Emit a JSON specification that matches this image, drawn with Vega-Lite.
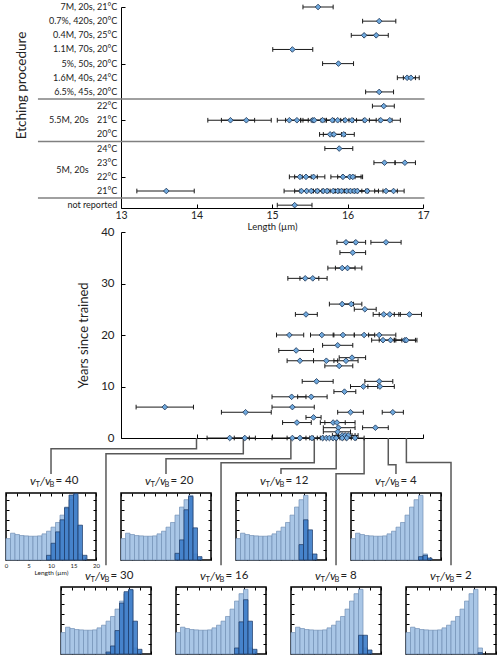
{
"$schema": "https://vega.github.io/schema/vega-lite/v6.json",
"padding": {"left": 3, "top": 2, "right": 0, "bottom": 0},
"config": {"view": {"stroke": null}, "font": "Lato", "axis": {"domainColor": "#000", "tickColor": "#000", "labelColor": "#222", "titleColor": "#222", "grid": false, "labelFlush": false, "labelOverlap": false, "labelBound": false}, "text": {"font": "Lato", "color": "#222"}},
"datasets": {
"rows": [
{"r":0,"t":"7M, 20s, 21°C"},{"r":1,"t":"0.7%, 420s, 20°C"},{"r":2,"t":"0.4M, 70s, 25°C"},{"r":3,"t":"1.1M, 70s, 20°C"},{"r":4,"t":"5%, 50s, 20°C"},{"r":5,"t":"1.6M, 40s, 24°C"},{"r":6,"t":"6.5%, 45s, 20°C"},{"r":7,"t":"22°C"},{"r":8,"t":"21°C"},{"r":9,"t":"20°C"},{"r":10,"t":"24°C"},{"r":11,"t":"23°C"},{"r":12,"t":"22°C"},{"r":13,"t":"21°C"},{"r":14,"t":"not reported"}
],
"etch": [
{"r":0,"x":15.61,"lo":15.41,"hi":15.81},
{"r":1,"x":16.42,"lo":16.2,"hi":16.64},
{"r":2,"x":16.22,"lo":16.05,"hi":16.38},
{"r":2,"x":16.38,"lo":16.22,"hi":16.54},
{"r":3,"x":15.27,"lo":15.01,"hi":15.54},
{"r":4,"x":15.88,"lo":15.67,"hi":16.08},
{"r":5,"x":16.79,"lo":16.66,"hi":16.9},
{"r":5,"x":16.84,"lo":16.74,"hi":16.95},
{"r":6,"x":16.42,"lo":16.24,"hi":16.61},
{"r":7,"x":16.48,"lo":16.33,"hi":16.62},
{"r":8,"x":14.45,"lo":14.15,"hi":14.77},
{"r":8,"x":14.66,"lo":14.33,"hi":14.99},
{"r":8,"x":15.23,"lo":15.07,"hi":15.38},
{"r":8,"x":15.33,"lo":15.18,"hi":15.48},
{"r":8,"x":15.54,"lo":15.38,"hi":15.7},
{"r":8,"x":15.56,"lo":15.41,"hi":15.72},
{"r":8,"x":15.67,"lo":15.52,"hi":15.82},
{"r":8,"x":15.8,"lo":15.65,"hi":15.95},
{"r":8,"x":15.87,"lo":15.72,"hi":16.02},
{"r":8,"x":15.97,"lo":15.82,"hi":16.12},
{"r":8,"x":16.06,"lo":15.91,"hi":16.21},
{"r":8,"x":16.23,"lo":16.08,"hi":16.38},
{"r":8,"x":16.44,"lo":16.29,"hi":16.59},
{"r":8,"x":16.56,"lo":16.42,"hi":16.7},
{"r":9,"x":15.77,"lo":15.63,"hi":15.92},
{"r":9,"x":15.82,"lo":15.68,"hi":15.97},
{"r":9,"x":15.95,"lo":15.8,"hi":16.09},
{"r":10,"x":15.89,"lo":15.7,"hi":16.07},
{"r":11,"x":16.49,"lo":16.35,"hi":16.63},
{"r":11,"x":16.76,"lo":16.63,"hi":16.9},
{"r":12,"x":15.37,"lo":15.23,"hi":15.52},
{"r":12,"x":15.45,"lo":15.3,"hi":15.6},
{"r":12,"x":15.55,"lo":15.4,"hi":15.7},
{"r":12,"x":15.94,"lo":15.78,"hi":16.1},
{"r":12,"x":16.03,"lo":15.87,"hi":16.18},
{"r":12,"x":16.07,"lo":15.93,"hi":16.2},
{"r":13,"x":13.6,"lo":13.21,"hi":13.97},
{"r":13,"x":15.39,"lo":15.16,"hi":15.55},
{"r":13,"x":15.46,"lo":15.3,"hi":15.62},
{"r":13,"x":15.52,"lo":15.37,"hi":15.67},
{"r":13,"x":15.6,"lo":15.45,"hi":15.75},
{"r":13,"x":15.68,"lo":15.53,"hi":15.83},
{"r":13,"x":15.73,"lo":15.58,"hi":15.88},
{"r":13,"x":15.81,"lo":15.66,"hi":15.96},
{"r":13,"x":15.87,"lo":15.72,"hi":16.02},
{"r":13,"x":15.92,"lo":15.77,"hi":16.07},
{"r":13,"x":15.99,"lo":15.84,"hi":16.14},
{"r":13,"x":16.04,"lo":15.89,"hi":16.19},
{"r":13,"x":16.09,"lo":15.94,"hi":16.24},
{"r":13,"x":16.13,"lo":15.98,"hi":16.28},
{"r":13,"x":16.26,"lo":16.11,"hi":16.41},
{"r":13,"x":16.51,"lo":16.36,"hi":16.66},
{"r":13,"x":16.61,"lo":16.47,"hi":16.75},
{"r":14,"x":15.3,"lo":15.07,"hi":15.53}
],
"years": [
{"y":38,"x":15.98,"lo":15.86,"hi":16.1},
{"y":38,"x":16.11,"lo":15.98,"hi":16.24},
{"y":38,"x":16.51,"lo":16.31,"hi":16.71},
{"y":36,"x":16.07,"lo":15.9,"hi":16.24},
{"y":33,"x":15.93,"lo":15.74,"hi":16.1},
{"y":33,"x":16.0,"lo":15.84,"hi":16.19},
{"y":31,"x":15.44,"lo":15.21,"hi":15.62},
{"y":31,"x":15.54,"lo":15.37,"hi":15.73},
{"y":26,"x":15.93,"lo":15.76,"hi":16.08},
{"y":26,"x":16.05,"lo":15.92,"hi":16.19},
{"y":25,"x":16.23,"lo":16.09,"hi":16.38},
{"y":24,"x":15.45,"lo":15.31,"hi":15.6},
{"y":24,"x":16.48,"lo":16.34,"hi":16.62},
{"y":24,"x":16.56,"lo":16.42,"hi":16.7},
{"y":24,"x":16.82,"lo":16.68,"hi":16.98},
{"y":20,"x":15.23,"lo":15.06,"hi":15.42},
{"y":20,"x":15.66,"lo":15.51,"hi":15.82},
{"y":20,"x":15.94,"lo":15.81,"hi":16.09},
{"y":20,"x":16.22,"lo":16.09,"hi":16.36},
{"y":20,"x":16.42,"lo":16.28,"hi":16.64},
{"y":19,"x":16.47,"lo":16.32,"hi":16.62},
{"y":19,"x":16.57,"lo":16.42,"hi":16.72},
{"y":19,"x":16.76,"lo":16.62,"hi":16.9},
{"y":19,"x":16.78,"lo":16.64,"hi":16.92},
{"y":18,"x":15.87,"lo":15.67,"hi":16.07},
{"y":17,"x":15.32,"lo":15.09,"hi":15.55},
{"y":15.6,"x":16.06,"lo":15.89,"hi":16.24},
{"y":15,"x":15.37,"lo":15.2,"hi":15.55},
{"y":15,"x":15.72,"lo":15.55,"hi":15.87},
{"y":15,"x":15.98,"lo":15.82,"hi":16.14},
{"y":14,"x":15.89,"lo":15.7,"hi":16.07},
{"y":11,"x":15.59,"lo":15.4,"hi":15.81},
{"y":11,"x":16.42,"lo":16.23,"hi":16.6},
{"y":10,"x":16.21,"lo":16.04,"hi":16.4},
{"y":10,"x":16.43,"lo":16.27,"hi":16.62},
{"y":9,"x":15.96,"lo":15.82,"hi":16.11},
{"y":8,"x":15.26,"lo":15.0,"hi":15.45},
{"y":8,"x":15.52,"lo":15.34,"hi":15.73},
{"y":6,"x":13.58,"lo":13.2,"hi":13.96},
{"y":6,"x":15.27,"lo":15.0,"hi":15.56},
{"y":5,"x":14.65,"lo":14.33,"hi":14.99},
{"y":5,"x":16.04,"lo":15.87,"hi":16.21},
{"y":5,"x":16.6,"lo":16.46,"hi":16.74},
{"y":4,"x":15.55,"lo":15.45,"hi":15.65},
{"y":3,"x":15.33,"lo":15.14,"hi":15.52},
{"y":3,"x":15.81,"lo":15.64,"hi":15.97},
{"y":3,"x":15.86,"lo":15.7,"hi":16.1},
{"y":2,"x":15.88,"lo":15.68,"hi":16.1},
{"y":2,"x":16.37,"lo":16.2,"hi":16.54},
{"y":1.2,"x":15.87,"lo":15.68,"hi":16.04},
{"y":0.5,"x":15.93,"lo":15.8,"hi":16.06},
{"y":0.5,"x":15.97,"lo":15.85,"hi":16.1},
{"y":0.5,"x":16.01,"lo":15.88,"hi":16.14},
{"y":0,"x":14.44,"lo":14.14,"hi":14.7},
{"y":0,"x":14.64,"lo":14.5,"hi":14.78},
{"y":0,"x":15.27,"lo":15.0,"hi":15.45},
{"y":0,"x":15.37,"lo":15.2,"hi":15.5},
{"y":0,"x":15.53,"lo":15.38,"hi":15.67},
{"y":0,"x":15.67,"lo":15.55,"hi":15.8},
{"y":0,"x":15.72,"lo":15.6,"hi":15.85},
{"y":0,"x":15.76,"lo":15.64,"hi":15.9},
{"y":0,"x":15.81,"lo":15.68,"hi":15.95},
{"y":0,"x":15.85,"lo":15.72,"hi":15.98},
{"y":0,"x":15.93,"lo":15.8,"hi":16.05},
{"y":0,"x":15.99,"lo":15.86,"hi":16.12},
{"y":0,"x":16.1,"lo":15.98,"hi":16.22}
],
"conn": [
{"c":"40","k":0,"x":14.0,"y":0},{"c":"40","k":1,"x":14.0,"y":-2.08},{"c":"40","k":2,"x":12.073,"y":-2.08},{"c":"40","k":3,"x":12.073,"y":-7.0},
{"c":"30","k":0,"x":14.62,"y":0},{"c":"30","k":1,"x":14.62,"y":-3.05},{"c":"30","k":2,"x":12.801,"y":-3.05},{"c":"30","k":3,"x":12.801,"y":-24.7},
{"c":"20","k":0,"x":15.25,"y":0},{"c":"20","k":1,"x":15.25,"y":-4.03},{"c":"20","k":2,"x":13.596,"y":-4.03},{"c":"20","k":3,"x":13.596,"y":-7.0},
{"c":"16","k":0,"x":15.56,"y":0},{"c":"16","k":1,"x":15.56,"y":-4.8},{"c":"16","k":2,"x":14.325,"y":-4.8},{"c":"16","k":3,"x":14.325,"y":-24.7},
{"c":"12","k":0,"x":15.85,"y":0},{"c":"12","k":1,"x":15.85,"y":-5.97},{"c":"12","k":2,"x":15.119,"y":-5.97},{"c":"12","k":3,"x":15.119,"y":-7.0},
{"c":"8","k":0,"x":16.22,"y":0},{"c":"8","k":1,"x":16.22,"y":-6.94},{"c":"8","k":2,"x":15.848,"y":-6.94},{"c":"8","k":3,"x":15.848,"y":-24.7},
{"c":"4","k":0,"x":16.54,"y":0},{"c":"4","k":1,"x":16.54,"y":-5.2},{"c":"4","k":2,"x":16.642,"y":-5.2},{"c":"4","k":3,"x":16.642,"y":-7.0},
{"c":"2","k":0,"x":16.78,"y":0},{"c":"2","k":1,"x":16.78,"y":-4.75},{"c":"2","k":2,"x":17.371,"y":-4.75},{"c":"2","k":3,"x":17.371,"y":-24.7}
],
"light": [
{"b0":0,"b1":1,"n":0.32},{"b0":1,"b1":2,"n":0.4},{"b0":2,"b1":3,"n":0.38},{"b0":3,"b1":4,"n":0.365},{"b0":4,"b1":5,"n":0.36},{"b0":5,"b1":6,"n":0.355},{"b0":6,"b1":7,"n":0.355},{"b0":7,"b1":8,"n":0.36},{"b0":8,"b1":9,"n":0.39},{"b0":9,"b1":10,"n":0.43},{"b0":10,"b1":11,"n":0.49},{"b0":11,"b1":12,"n":0.56},{"b0":12,"b1":13,"n":0.67},{"b0":13,"b1":14,"n":0.79},{"b0":14,"b1":15,"n":0.9},{"b0":15,"b1":16,"n":0.965},{"b0":16,"b1":17,"n":0.09}
],
"dark": [
{"v":40,"b0":9,"b1":10,"n":0.07},{"v":40,"b0":10,"b1":11,"n":0.25},{"v":40,"b0":11,"b1":12,"n":0.42},{"v":40,"b0":12,"b1":13,"n":0.6},{"v":40,"b0":13,"b1":14,"n":0.78},{"v":40,"b0":14,"b1":15,"n":0.97},{"v":40,"b0":15,"b1":16,"n":0.99},{"v":40,"b0":16,"b1":17,"n":0.52},{"v":40,"b0":17,"b1":18,"n":0.07},
{"v":30,"b0":10,"b1":11,"n":0.03},{"v":30,"b0":11,"b1":12,"n":0.12},{"v":30,"b0":12,"b1":13,"n":0.35},{"v":30,"b0":13,"b1":14,"n":0.76},{"v":30,"b0":14,"b1":15,"n":0.93},{"v":30,"b0":15,"b1":16,"n":0.96},{"v":30,"b0":16,"b1":17,"n":0.49},{"v":30,"b0":17,"b1":18,"n":0.07},
{"v":20,"b0":12,"b1":13,"n":0.1},{"v":20,"b0":13,"b1":14,"n":0.3},{"v":20,"b0":14,"b1":15,"n":0.75},{"v":20,"b0":15,"b1":16,"n":0.95},{"v":20,"b0":16,"b1":17,"n":0.48},{"v":20,"b0":17,"b1":18,"n":0.05},
{"v":16,"b0":13,"b1":14,"n":0.09},{"v":16,"b0":14,"b1":15,"n":0.48},{"v":16,"b0":15,"b1":16,"n":0.81},{"v":16,"b0":16,"b1":17,"n":0.49},{"v":16,"b0":17,"b1":18,"n":0.07},
{"v":12,"b0":14,"b1":15,"n":0.23},{"v":12,"b0":15,"b1":16,"n":0.6},{"v":12,"b0":16,"b1":17,"n":0.45},{"v":12,"b0":17,"b1":18,"n":0.09},
{"v":8,"b0":15,"b1":16,"n":0.28},{"v":8,"b0":16,"b1":17,"n":0.28},{"v":8,"b0":17,"b1":18,"n":0.06},
{"v":4,"b0":15,"b1":16,"n":0.05},{"v":4,"b0":16,"b1":17,"n":0.07},{"v":4,"b0":17,"b1":18,"n":0.03},
{"v":2,"b0":16,"b1":17,"n":0.02}
]
},
"vconcat": [
{"hconcat": [
  {"width": 115, "height": 1, "data": {"values": []}, "mark": "point"},
  {"vconcat": [
    {"width": 302, "height": 201,
     "layer": [
      {"data": {"values": [{"r": 6.5}, {"r": 9.5}, {"r": 13.5}]}, "mark": {"type": "rule", "color": "#808080", "strokeWidth": 1.5},
       "encoding": {"y": {"field": "r", "type": "quantitative"}, "x": {"datum": 11.9, "type": "quantitative"}, "x2": {"datum": 17.02}}},
      {"data": {"values": [{"t": "5.5M, 20s", "r": 8}, {"t": "5M, 20s", "r": 11.5}]}, "mark": {"type": "text", "align": "right", "baseline": "middle", "fontSize": 9},
       "encoding": {"x": {"datum": 12.57, "type": "quantitative"}, "y": {"field": "r", "type": "quantitative"}, "text": {"field": "t"}}},
      {"data": {"name": "rows"}, "mark": {"type": "text", "align": "right", "baseline": "middle", "fontSize": 9},
       "encoding": {"x": {"datum": 12.95, "type": "quantitative"}, "y": {"field": "r", "type": "quantitative"}, "text": {"field": "t"}}},
      {"data": {"name": "etch"}, "mark": {"type": "rule", "color": "#1a1a1a", "strokeWidth": 1},
       "encoding": {"x": {"field": "lo", "type": "quantitative"}, "x2": {"field": "hi"}, "y": {"field": "r", "type": "quantitative"}}},
      {"data": {"name": "etch"}, "mark": {"type": "point", "shape": "M0,-1L0,1", "filled": false, "size": 22, "stroke": "#1a1a1a", "strokeWidth": 1, "opacity": 1},
       "encoding": {"x": {"field": "lo", "type": "quantitative"}, "y": {"field": "r", "type": "quantitative"}}},
      {"data": {"name": "etch"}, "mark": {"type": "point", "shape": "M0,-1L0,1", "filled": false, "size": 22, "stroke": "#1a1a1a", "strokeWidth": 1, "opacity": 1},
       "encoding": {"x": {"field": "hi", "type": "quantitative"}, "y": {"field": "r", "type": "quantitative"}}},
      {"data": {"name": "etch"}, "mark": {"type": "point", "shape": "diamond", "filled": true, "size": 32, "fill": "#6fa9de", "stroke": "#1b3150", "strokeWidth": 0.8, "opacity": 1},
       "encoding": {
        "x": {"field": "x", "type": "quantitative", "scale": {"domain": [13, 17], "nice": false, "zero": false},
              "axis": {"values": [13, 14, 15, 16, 17], "format": "d", "title": "Length (µm)", "titleFontSize": 9.5, "titleFontWeight": "normal", "titlePadding": 1, "labelFontSize": 10.5, "tickSize": -4, "labelPadding": 6, "labelOverlap": false}},
        "y": {"field": "r", "type": "quantitative", "scale": {"domain": [0, 14.2], "reverse": true, "nice": false, "zero": false},
              "axis": {"values": [0,2,4,6,8,10,12,14], "labels": false, "tickSize": -4, "title": "Etching procedure", "titleFontSize": 13.5, "titleFontWeight": "normal", "titlePadding": 92, "titleY": 78}}
       }}
     ]},
    {"width": 302, "height": 206,
     "layer": [
      {"data": {"name": "conn"}, "mark": {"type": "line", "color": "#595959", "strokeWidth": 1.5, "strokeJoin": "miter"},
       "encoding": {"x": {"field": "x", "type": "quantitative"}, "y": {"field": "y", "type": "quantitative"}, "detail": {"field": "c"}, "order": {"field": "k"}}},
      {"data": {"name": "years"}, "mark": {"type": "rule", "color": "#1a1a1a", "strokeWidth": 1},
       "encoding": {"x": {"field": "lo", "type": "quantitative"}, "x2": {"field": "hi"}, "y": {"field": "y", "type": "quantitative"}}},
      {"data": {"name": "years"}, "mark": {"type": "point", "shape": "M0,-1L0,1", "filled": false, "size": 22, "stroke": "#1a1a1a", "strokeWidth": 1, "opacity": 1},
       "encoding": {"x": {"field": "lo", "type": "quantitative"}, "y": {"field": "y", "type": "quantitative"}}},
      {"data": {"name": "years"}, "mark": {"type": "point", "shape": "M0,-1L0,1", "filled": false, "size": 22, "stroke": "#1a1a1a", "strokeWidth": 1, "opacity": 1},
       "encoding": {"x": {"field": "hi", "type": "quantitative"}, "y": {"field": "y", "type": "quantitative"}}},
      {"data": {"name": "years"}, "mark": {"type": "point", "shape": "diamond", "filled": true, "size": 32, "fill": "#6fa9de", "stroke": "#1b3150", "strokeWidth": 0.8, "opacity": 1},
       "encoding": {
        "x": {"field": "x", "type": "quantitative", "scale": {"domain": [13, 17], "nice": false, "zero": false},
              "axis": {"values": [13, 14, 15, 16, 17], "labels": false, "title": null, "tickSize": -4}},
        "y": {"field": "y", "type": "quantitative", "scale": {"domain": [0, 40], "nice": false, "zero": false},
              "axis": {"values": [0,5,10,15,20,25,30,35,40], "labelOverlap": false, "labelFontSize": 11.5, "tickSize": -4, "labelPadding": 11, "title": "Years since trained", "titleFontSize": 13, "titleFontWeight": "normal", "titlePadding": 10}}
       }}
     ]}
  ], "spacing": 24, "bounds": "flush"}
], "spacing": 0, "bounds": "flush"},
{"vconcat": [
 {"hconcat": [
  {"width": 90, "height": 67, "view": {"stroke": "#000", "strokeWidth": 1.5},
   "layer": [
    {"data": {"name": "light"}, "mark": {"type": "rect", "fill": "#a9c6e6", "stroke": "#7391b6", "strokeWidth": 0.7},
     "encoding": {"x": {"field": "b0", "type": "quantitative", "scale": {"domain": [0, 20], "nice": false, "zero": false}, "axis": {"orient": "bottom", "values": [0,2.5,5,7.5,10,12.5,15,17.5,20], "tickSize": -3, "domain": false, "labelExpr": "datum.value % 5 == 0 ? datum.label : ''", "labelFontSize": 6, "labelPadding": 5, "title": "Length (µm)", "titleFontSize": 6.5, "titleFontWeight": "normal", "titlePadding": 1}},
      "x2": {"field": "b1"},
      "y": {"field": "n", "type": "quantitative", "scale": {"domain": [0, 1], "nice": false}, "axis": {"orient": "left", "values": [0.15,0.3,0.45,0.6,0.75,0.9], "tickSize": -3, "domain": false, "labels": false, "title": null}},
      "y2": {"datum": 0}}},
    {"data": {"name": "dark"}, "transform": [{"filter": "datum.v == 40"}], "mark": {"type": "rect", "fill": "#3b7bc8", "fillOpacity": 0.9, "stroke": "#1c3966", "strokeWidth": 0.7},
     "encoding": {"x": {"field": "b0", "type": "quantitative", "axis": {"orient": "top", "values": [0,2.5,5,7.5,10,12.5,15,17.5,20], "tickSize": -3, "domain": false, "labels": false, "title": null}},
      "x2": {"field": "b1"},
      "y": {"field": "n", "type": "quantitative", "axis": {"orient": "right", "values": [0.15,0.3,0.45,0.6,0.75,0.9], "tickSize": -3, "domain": false, "labels": false, "title": null}},
      "y2": {"datum": 0}}},
    {"data": {"values": [{}]}, "mark": {"type": "text", "text": "v", "fontStyle": "italic", "fontSize": 12, "align": "left", "baseline": "middle", "dx": -21}, "encoding": {"x": {"datum": 10, "type": "quantitative", "axis": null}, "y": {"datum": 1.18, "type": "quantitative", "axis": null}}},
    {"data": {"values": [{}]}, "mark": {"type": "text", "text": "T", "fontSize": 7.5, "align": "left", "baseline": "middle", "dx": -15.5, "dy": 4}, "encoding": {"x": {"datum": 10, "type": "quantitative", "axis": null}, "y": {"datum": 1.18, "type": "quantitative", "axis": null}}},
    {"data": {"values": [{}]}, "mark": {"type": "text", "text": "/v", "fontStyle": "italic", "fontSize": 12, "align": "left", "baseline": "middle", "dx": -11}, "encoding": {"x": {"datum": 10, "type": "quantitative", "axis": null}, "y": {"datum": 1.18, "type": "quantitative", "axis": null}}},
    {"data": {"values": [{}]}, "mark": {"type": "text", "text": "B", "fontSize": 7.5, "align": "left", "baseline": "middle", "dx": -1.5, "dy": 4}, "encoding": {"x": {"datum": 10, "type": "quantitative", "axis": null}, "y": {"datum": 1.18, "type": "quantitative", "axis": null}}},
    {"data": {"values": [{}]}, "mark": {"type": "text", "text": "= 40", "fontSize": 11.5, "align": "left", "baseline": "middle", "dx": 4.5}, "encoding": {"x": {"datum": 10, "type": "quantitative", "axis": null}, "y": {"datum": 1.18, "type": "quantitative", "axis": null}}}
   ],
   "resolve": {"axis": {"x": "independent", "y": "independent"}}},
  {"width": 90, "height": 67, "view": {"stroke": "#000", "strokeWidth": 1.5},
   "layer": [
    {"data": {"name": "light"}, "mark": {"type": "rect", "fill": "#a9c6e6", "stroke": "#7391b6", "strokeWidth": 0.7},
     "encoding": {"x": {"field": "b0", "type": "quantitative", "scale": {"domain": [0, 20], "nice": false, "zero": false}, "axis": {"orient": "bottom", "values": [0,2.5,5,7.5,10,12.5,15,17.5,20], "tickSize": -3, "domain": false, "labels": false, "title": null}},
      "x2": {"field": "b1"},
      "y": {"field": "n", "type": "quantitative", "scale": {"domain": [0, 1], "nice": false}, "axis": {"orient": "left", "values": [0.15,0.3,0.45,0.6,0.75,0.9], "tickSize": -3, "domain": false, "labels": false, "title": null}},
      "y2": {"datum": 0}}},
    {"data": {"name": "dark"}, "transform": [{"filter": "datum.v == 20"}], "mark": {"type": "rect", "fill": "#3b7bc8", "fillOpacity": 0.9, "stroke": "#1c3966", "strokeWidth": 0.7},
     "encoding": {"x": {"field": "b0", "type": "quantitative", "axis": {"orient": "top", "values": [0,2.5,5,7.5,10,12.5,15,17.5,20], "tickSize": -3, "domain": false, "labels": false, "title": null}},
      "x2": {"field": "b1"},
      "y": {"field": "n", "type": "quantitative", "axis": {"orient": "right", "values": [0.15,0.3,0.45,0.6,0.75,0.9], "tickSize": -3, "domain": false, "labels": false, "title": null}},
      "y2": {"datum": 0}}},
    {"data": {"values": [{}]}, "mark": {"type": "text", "text": "v", "fontStyle": "italic", "fontSize": 12, "align": "left", "baseline": "middle", "dx": -21}, "encoding": {"x": {"datum": 10, "type": "quantitative", "axis": null}, "y": {"datum": 1.18, "type": "quantitative", "axis": null}}},
    {"data": {"values": [{}]}, "mark": {"type": "text", "text": "T", "fontSize": 7.5, "align": "left", "baseline": "middle", "dx": -15.5, "dy": 4}, "encoding": {"x": {"datum": 10, "type": "quantitative", "axis": null}, "y": {"datum": 1.18, "type": "quantitative", "axis": null}}},
    {"data": {"values": [{}]}, "mark": {"type": "text", "text": "/v", "fontStyle": "italic", "fontSize": 12, "align": "left", "baseline": "middle", "dx": -11}, "encoding": {"x": {"datum": 10, "type": "quantitative", "axis": null}, "y": {"datum": 1.18, "type": "quantitative", "axis": null}}},
    {"data": {"values": [{}]}, "mark": {"type": "text", "text": "B", "fontSize": 7.5, "align": "left", "baseline": "middle", "dx": -1.5, "dy": 4}, "encoding": {"x": {"datum": 10, "type": "quantitative", "axis": null}, "y": {"datum": 1.18, "type": "quantitative", "axis": null}}},
    {"data": {"values": [{}]}, "mark": {"type": "text", "text": "= 20", "fontSize": 11.5, "align": "left", "baseline": "middle", "dx": 4.5}, "encoding": {"x": {"datum": 10, "type": "quantitative", "axis": null}, "y": {"datum": 1.18, "type": "quantitative", "axis": null}}}
   ],
   "resolve": {"axis": {"x": "independent", "y": "independent"}}},
  {"width": 90, "height": 67, "view": {"stroke": "#000", "strokeWidth": 1.5},
   "layer": [
    {"data": {"name": "light"}, "mark": {"type": "rect", "fill": "#a9c6e6", "stroke": "#7391b6", "strokeWidth": 0.7},
     "encoding": {"x": {"field": "b0", "type": "quantitative", "scale": {"domain": [0, 20], "nice": false, "zero": false}, "axis": {"orient": "bottom", "values": [0,2.5,5,7.5,10,12.5,15,17.5,20], "tickSize": -3, "domain": false, "labels": false, "title": null}},
      "x2": {"field": "b1"},
      "y": {"field": "n", "type": "quantitative", "scale": {"domain": [0, 1], "nice": false}, "axis": {"orient": "left", "values": [0.15,0.3,0.45,0.6,0.75,0.9], "tickSize": -3, "domain": false, "labels": false, "title": null}},
      "y2": {"datum": 0}}},
    {"data": {"name": "dark"}, "transform": [{"filter": "datum.v == 12"}], "mark": {"type": "rect", "fill": "#3b7bc8", "fillOpacity": 0.9, "stroke": "#1c3966", "strokeWidth": 0.7},
     "encoding": {"x": {"field": "b0", "type": "quantitative", "axis": {"orient": "top", "values": [0,2.5,5,7.5,10,12.5,15,17.5,20], "tickSize": -3, "domain": false, "labels": false, "title": null}},
      "x2": {"field": "b1"},
      "y": {"field": "n", "type": "quantitative", "axis": {"orient": "right", "values": [0.15,0.3,0.45,0.6,0.75,0.9], "tickSize": -3, "domain": false, "labels": false, "title": null}},
      "y2": {"datum": 0}}},
    {"data": {"values": [{}]}, "mark": {"type": "text", "text": "v", "fontStyle": "italic", "fontSize": 12, "align": "left", "baseline": "middle", "dx": -21}, "encoding": {"x": {"datum": 10, "type": "quantitative", "axis": null}, "y": {"datum": 1.18, "type": "quantitative", "axis": null}}},
    {"data": {"values": [{}]}, "mark": {"type": "text", "text": "T", "fontSize": 7.5, "align": "left", "baseline": "middle", "dx": -15.5, "dy": 4}, "encoding": {"x": {"datum": 10, "type": "quantitative", "axis": null}, "y": {"datum": 1.18, "type": "quantitative", "axis": null}}},
    {"data": {"values": [{}]}, "mark": {"type": "text", "text": "/v", "fontStyle": "italic", "fontSize": 12, "align": "left", "baseline": "middle", "dx": -11}, "encoding": {"x": {"datum": 10, "type": "quantitative", "axis": null}, "y": {"datum": 1.18, "type": "quantitative", "axis": null}}},
    {"data": {"values": [{}]}, "mark": {"type": "text", "text": "B", "fontSize": 7.5, "align": "left", "baseline": "middle", "dx": -1.5, "dy": 4}, "encoding": {"x": {"datum": 10, "type": "quantitative", "axis": null}, "y": {"datum": 1.18, "type": "quantitative", "axis": null}}},
    {"data": {"values": [{}]}, "mark": {"type": "text", "text": "= 12", "fontSize": 11.5, "align": "left", "baseline": "middle", "dx": 4.5}, "encoding": {"x": {"datum": 10, "type": "quantitative", "axis": null}, "y": {"datum": 1.18, "type": "quantitative", "axis": null}}}
   ],
   "resolve": {"axis": {"x": "independent", "y": "independent"}}},
  {"width": 90, "height": 67, "view": {"stroke": "#000", "strokeWidth": 1.5},
   "layer": [
    {"data": {"name": "light"}, "mark": {"type": "rect", "fill": "#a9c6e6", "stroke": "#7391b6", "strokeWidth": 0.7},
     "encoding": {"x": {"field": "b0", "type": "quantitative", "scale": {"domain": [0, 20], "nice": false, "zero": false}, "axis": {"orient": "bottom", "values": [0,2.5,5,7.5,10,12.5,15,17.5,20], "tickSize": -3, "domain": false, "labels": false, "title": null}},
      "x2": {"field": "b1"},
      "y": {"field": "n", "type": "quantitative", "scale": {"domain": [0, 1], "nice": false}, "axis": {"orient": "left", "values": [0.15,0.3,0.45,0.6,0.75,0.9], "tickSize": -3, "domain": false, "labels": false, "title": null}},
      "y2": {"datum": 0}}},
    {"data": {"name": "dark"}, "transform": [{"filter": "datum.v == 4"}], "mark": {"type": "rect", "fill": "#3b7bc8", "fillOpacity": 0.9, "stroke": "#1c3966", "strokeWidth": 0.7},
     "encoding": {"x": {"field": "b0", "type": "quantitative", "axis": {"orient": "top", "values": [0,2.5,5,7.5,10,12.5,15,17.5,20], "tickSize": -3, "domain": false, "labels": false, "title": null}},
      "x2": {"field": "b1"},
      "y": {"field": "n", "type": "quantitative", "axis": {"orient": "right", "values": [0.15,0.3,0.45,0.6,0.75,0.9], "tickSize": -3, "domain": false, "labels": false, "title": null}},
      "y2": {"datum": 0}}},
    {"data": {"values": [{}]}, "mark": {"type": "text", "text": "v", "fontStyle": "italic", "fontSize": 12, "align": "left", "baseline": "middle", "dx": -21}, "encoding": {"x": {"datum": 10, "type": "quantitative", "axis": null}, "y": {"datum": 1.18, "type": "quantitative", "axis": null}}},
    {"data": {"values": [{}]}, "mark": {"type": "text", "text": "T", "fontSize": 7.5, "align": "left", "baseline": "middle", "dx": -15.5, "dy": 4}, "encoding": {"x": {"datum": 10, "type": "quantitative", "axis": null}, "y": {"datum": 1.18, "type": "quantitative", "axis": null}}},
    {"data": {"values": [{}]}, "mark": {"type": "text", "text": "/v", "fontStyle": "italic", "fontSize": 12, "align": "left", "baseline": "middle", "dx": -11}, "encoding": {"x": {"datum": 10, "type": "quantitative", "axis": null}, "y": {"datum": 1.18, "type": "quantitative", "axis": null}}},
    {"data": {"values": [{}]}, "mark": {"type": "text", "text": "B", "fontSize": 7.5, "align": "left", "baseline": "middle", "dx": -1.5, "dy": 4}, "encoding": {"x": {"datum": 10, "type": "quantitative", "axis": null}, "y": {"datum": 1.18, "type": "quantitative", "axis": null}}},
    {"data": {"values": [{}]}, "mark": {"type": "text", "text": "= 4", "fontSize": 11.5, "align": "left", "baseline": "middle", "dx": 4.5}, "encoding": {"x": {"datum": 10, "type": "quantitative", "axis": null}, "y": {"datum": 1.18, "type": "quantitative", "axis": null}}}
   ],
   "resolve": {"axis": {"x": "independent", "y": "independent"}}}
 ], "spacing": 25, "bounds": "flush"},
 {"hconcat": [
  {"width": 30, "height": 1, "data": {"values": []}, "mark": "point"},
  {"width": 90, "height": 67, "view": {"stroke": "#000", "strokeWidth": 1.5},
   "layer": [
    {"data": {"name": "light"}, "mark": {"type": "rect", "fill": "#a9c6e6", "stroke": "#7391b6", "strokeWidth": 0.7},
     "encoding": {"x": {"field": "b0", "type": "quantitative", "scale": {"domain": [0, 20], "nice": false, "zero": false}, "axis": {"orient": "bottom", "values": [0,2.5,5,7.5,10,12.5,15,17.5,20], "tickSize": -3, "domain": false, "labels": false, "title": null}},
      "x2": {"field": "b1"},
      "y": {"field": "n", "type": "quantitative", "scale": {"domain": [0, 1], "nice": false}, "axis": {"orient": "left", "values": [0.15,0.3,0.45,0.6,0.75,0.9], "tickSize": -3, "domain": false, "labels": false, "title": null}},
      "y2": {"datum": 0}}},
    {"data": {"name": "dark"}, "transform": [{"filter": "datum.v == 30"}], "mark": {"type": "rect", "fill": "#3b7bc8", "fillOpacity": 0.9, "stroke": "#1c3966", "strokeWidth": 0.7},
     "encoding": {"x": {"field": "b0", "type": "quantitative", "axis": {"orient": "top", "values": [0,2.5,5,7.5,10,12.5,15,17.5,20], "tickSize": -3, "domain": false, "labels": false, "title": null}},
      "x2": {"field": "b1"},
      "y": {"field": "n", "type": "quantitative", "axis": {"orient": "right", "values": [0.15,0.3,0.45,0.6,0.75,0.9], "tickSize": -3, "domain": false, "labels": false, "title": null}},
      "y2": {"datum": 0}}},
    {"data": {"values": [{}]}, "mark": {"type": "text", "text": "v", "fontStyle": "italic", "fontSize": 12, "align": "left", "baseline": "middle", "dx": -21}, "encoding": {"x": {"datum": 10, "type": "quantitative", "axis": null}, "y": {"datum": 1.16, "type": "quantitative", "axis": null}}},
    {"data": {"values": [{}]}, "mark": {"type": "text", "text": "T", "fontSize": 7.5, "align": "left", "baseline": "middle", "dx": -15.5, "dy": 4}, "encoding": {"x": {"datum": 10, "type": "quantitative", "axis": null}, "y": {"datum": 1.16, "type": "quantitative", "axis": null}}},
    {"data": {"values": [{}]}, "mark": {"type": "text", "text": "/v", "fontStyle": "italic", "fontSize": 12, "align": "left", "baseline": "middle", "dx": -11}, "encoding": {"x": {"datum": 10, "type": "quantitative", "axis": null}, "y": {"datum": 1.16, "type": "quantitative", "axis": null}}},
    {"data": {"values": [{}]}, "mark": {"type": "text", "text": "B", "fontSize": 7.5, "align": "left", "baseline": "middle", "dx": -1.5, "dy": 4}, "encoding": {"x": {"datum": 10, "type": "quantitative", "axis": null}, "y": {"datum": 1.16, "type": "quantitative", "axis": null}}},
    {"data": {"values": [{}]}, "mark": {"type": "text", "text": "= 30", "fontSize": 11.5, "align": "left", "baseline": "middle", "dx": 4.5}, "encoding": {"x": {"datum": 10, "type": "quantitative", "axis": null}, "y": {"datum": 1.16, "type": "quantitative", "axis": null}}}
   ],
   "resolve": {"axis": {"x": "independent", "y": "independent"}}},
  {"width": 90, "height": 67, "view": {"stroke": "#000", "strokeWidth": 1.5},
   "layer": [
    {"data": {"name": "light"}, "mark": {"type": "rect", "fill": "#a9c6e6", "stroke": "#7391b6", "strokeWidth": 0.7},
     "encoding": {"x": {"field": "b0", "type": "quantitative", "scale": {"domain": [0, 20], "nice": false, "zero": false}, "axis": {"orient": "bottom", "values": [0,2.5,5,7.5,10,12.5,15,17.5,20], "tickSize": -3, "domain": false, "labels": false, "title": null}},
      "x2": {"field": "b1"},
      "y": {"field": "n", "type": "quantitative", "scale": {"domain": [0, 1], "nice": false}, "axis": {"orient": "left", "values": [0.15,0.3,0.45,0.6,0.75,0.9], "tickSize": -3, "domain": false, "labels": false, "title": null}},
      "y2": {"datum": 0}}},
    {"data": {"name": "dark"}, "transform": [{"filter": "datum.v == 16"}], "mark": {"type": "rect", "fill": "#3b7bc8", "fillOpacity": 0.9, "stroke": "#1c3966", "strokeWidth": 0.7},
     "encoding": {"x": {"field": "b0", "type": "quantitative", "axis": {"orient": "top", "values": [0,2.5,5,7.5,10,12.5,15,17.5,20], "tickSize": -3, "domain": false, "labels": false, "title": null}},
      "x2": {"field": "b1"},
      "y": {"field": "n", "type": "quantitative", "axis": {"orient": "right", "values": [0.15,0.3,0.45,0.6,0.75,0.9], "tickSize": -3, "domain": false, "labels": false, "title": null}},
      "y2": {"datum": 0}}},
    {"data": {"values": [{}]}, "mark": {"type": "text", "text": "v", "fontStyle": "italic", "fontSize": 12, "align": "left", "baseline": "middle", "dx": -21}, "encoding": {"x": {"datum": 10, "type": "quantitative", "axis": null}, "y": {"datum": 1.16, "type": "quantitative", "axis": null}}},
    {"data": {"values": [{}]}, "mark": {"type": "text", "text": "T", "fontSize": 7.5, "align": "left", "baseline": "middle", "dx": -15.5, "dy": 4}, "encoding": {"x": {"datum": 10, "type": "quantitative", "axis": null}, "y": {"datum": 1.16, "type": "quantitative", "axis": null}}},
    {"data": {"values": [{}]}, "mark": {"type": "text", "text": "/v", "fontStyle": "italic", "fontSize": 12, "align": "left", "baseline": "middle", "dx": -11}, "encoding": {"x": {"datum": 10, "type": "quantitative", "axis": null}, "y": {"datum": 1.16, "type": "quantitative", "axis": null}}},
    {"data": {"values": [{}]}, "mark": {"type": "text", "text": "B", "fontSize": 7.5, "align": "left", "baseline": "middle", "dx": -1.5, "dy": 4}, "encoding": {"x": {"datum": 10, "type": "quantitative", "axis": null}, "y": {"datum": 1.16, "type": "quantitative", "axis": null}}},
    {"data": {"values": [{}]}, "mark": {"type": "text", "text": "= 16", "fontSize": 11.5, "align": "left", "baseline": "middle", "dx": 4.5}, "encoding": {"x": {"datum": 10, "type": "quantitative", "axis": null}, "y": {"datum": 1.16, "type": "quantitative", "axis": null}}}
   ],
   "resolve": {"axis": {"x": "independent", "y": "independent"}}},
  {"width": 90, "height": 67, "view": {"stroke": "#000", "strokeWidth": 1.5},
   "layer": [
    {"data": {"name": "light"}, "mark": {"type": "rect", "fill": "#a9c6e6", "stroke": "#7391b6", "strokeWidth": 0.7},
     "encoding": {"x": {"field": "b0", "type": "quantitative", "scale": {"domain": [0, 20], "nice": false, "zero": false}, "axis": {"orient": "bottom", "values": [0,2.5,5,7.5,10,12.5,15,17.5,20], "tickSize": -3, "domain": false, "labels": false, "title": null}},
      "x2": {"field": "b1"},
      "y": {"field": "n", "type": "quantitative", "scale": {"domain": [0, 1], "nice": false}, "axis": {"orient": "left", "values": [0.15,0.3,0.45,0.6,0.75,0.9], "tickSize": -3, "domain": false, "labels": false, "title": null}},
      "y2": {"datum": 0}}},
    {"data": {"name": "dark"}, "transform": [{"filter": "datum.v == 8"}], "mark": {"type": "rect", "fill": "#3b7bc8", "fillOpacity": 0.9, "stroke": "#1c3966", "strokeWidth": 0.7},
     "encoding": {"x": {"field": "b0", "type": "quantitative", "axis": {"orient": "top", "values": [0,2.5,5,7.5,10,12.5,15,17.5,20], "tickSize": -3, "domain": false, "labels": false, "title": null}},
      "x2": {"field": "b1"},
      "y": {"field": "n", "type": "quantitative", "axis": {"orient": "right", "values": [0.15,0.3,0.45,0.6,0.75,0.9], "tickSize": -3, "domain": false, "labels": false, "title": null}},
      "y2": {"datum": 0}}},
    {"data": {"values": [{}]}, "mark": {"type": "text", "text": "v", "fontStyle": "italic", "fontSize": 12, "align": "left", "baseline": "middle", "dx": -21}, "encoding": {"x": {"datum": 10, "type": "quantitative", "axis": null}, "y": {"datum": 1.16, "type": "quantitative", "axis": null}}},
    {"data": {"values": [{}]}, "mark": {"type": "text", "text": "T", "fontSize": 7.5, "align": "left", "baseline": "middle", "dx": -15.5, "dy": 4}, "encoding": {"x": {"datum": 10, "type": "quantitative", "axis": null}, "y": {"datum": 1.16, "type": "quantitative", "axis": null}}},
    {"data": {"values": [{}]}, "mark": {"type": "text", "text": "/v", "fontStyle": "italic", "fontSize": 12, "align": "left", "baseline": "middle", "dx": -11}, "encoding": {"x": {"datum": 10, "type": "quantitative", "axis": null}, "y": {"datum": 1.16, "type": "quantitative", "axis": null}}},
    {"data": {"values": [{}]}, "mark": {"type": "text", "text": "B", "fontSize": 7.5, "align": "left", "baseline": "middle", "dx": -1.5, "dy": 4}, "encoding": {"x": {"datum": 10, "type": "quantitative", "axis": null}, "y": {"datum": 1.16, "type": "quantitative", "axis": null}}},
    {"data": {"values": [{}]}, "mark": {"type": "text", "text": "= 8", "fontSize": 11.5, "align": "left", "baseline": "middle", "dx": 4.5}, "encoding": {"x": {"datum": 10, "type": "quantitative", "axis": null}, "y": {"datum": 1.16, "type": "quantitative", "axis": null}}}
   ],
   "resolve": {"axis": {"x": "independent", "y": "independent"}}},
  {"width": 90, "height": 67, "view": {"stroke": "#000", "strokeWidth": 1.5},
   "layer": [
    {"data": {"name": "light"}, "mark": {"type": "rect", "fill": "#a9c6e6", "stroke": "#7391b6", "strokeWidth": 0.7},
     "encoding": {"x": {"field": "b0", "type": "quantitative", "scale": {"domain": [0, 20], "nice": false, "zero": false}, "axis": {"orient": "bottom", "values": [0,2.5,5,7.5,10,12.5,15,17.5,20], "tickSize": -3, "domain": false, "labels": false, "title": null}},
      "x2": {"field": "b1"},
      "y": {"field": "n", "type": "quantitative", "scale": {"domain": [0, 1], "nice": false}, "axis": {"orient": "left", "values": [0.15,0.3,0.45,0.6,0.75,0.9], "tickSize": -3, "domain": false, "labels": false, "title": null}},
      "y2": {"datum": 0}}},
    {"data": {"name": "dark"}, "transform": [{"filter": "datum.v == 2"}], "mark": {"type": "rect", "fill": "#3b7bc8", "fillOpacity": 0.9, "stroke": "#1c3966", "strokeWidth": 0.7},
     "encoding": {"x": {"field": "b0", "type": "quantitative", "axis": {"orient": "top", "values": [0,2.5,5,7.5,10,12.5,15,17.5,20], "tickSize": -3, "domain": false, "labels": false, "title": null}},
      "x2": {"field": "b1"},
      "y": {"field": "n", "type": "quantitative", "axis": {"orient": "right", "values": [0.15,0.3,0.45,0.6,0.75,0.9], "tickSize": -3, "domain": false, "labels": false, "title": null}},
      "y2": {"datum": 0}}},
    {"data": {"values": [{}]}, "mark": {"type": "text", "text": "v", "fontStyle": "italic", "fontSize": 12, "align": "left", "baseline": "middle", "dx": -21}, "encoding": {"x": {"datum": 10, "type": "quantitative", "axis": null}, "y": {"datum": 1.16, "type": "quantitative", "axis": null}}},
    {"data": {"values": [{}]}, "mark": {"type": "text", "text": "T", "fontSize": 7.5, "align": "left", "baseline": "middle", "dx": -15.5, "dy": 4}, "encoding": {"x": {"datum": 10, "type": "quantitative", "axis": null}, "y": {"datum": 1.16, "type": "quantitative", "axis": null}}},
    {"data": {"values": [{}]}, "mark": {"type": "text", "text": "/v", "fontStyle": "italic", "fontSize": 12, "align": "left", "baseline": "middle", "dx": -11}, "encoding": {"x": {"datum": 10, "type": "quantitative", "axis": null}, "y": {"datum": 1.16, "type": "quantitative", "axis": null}}},
    {"data": {"values": [{}]}, "mark": {"type": "text", "text": "B", "fontSize": 7.5, "align": "left", "baseline": "middle", "dx": -1.5, "dy": 4}, "encoding": {"x": {"datum": 10, "type": "quantitative", "axis": null}, "y": {"datum": 1.16, "type": "quantitative", "axis": null}}},
    {"data": {"values": [{}]}, "mark": {"type": "text", "text": "= 2", "fontSize": 11.5, "align": "left", "baseline": "middle", "dx": 4.5}, "encoding": {"x": {"datum": 10, "type": "quantitative", "axis": null}, "y": {"datum": 1.16, "type": "quantitative", "axis": null}}}
   ],
   "resolve": {"axis": {"x": "independent", "y": "independent"}}}
 ], "spacing": 25, "bounds": "flush"}
], "spacing": 94, "bounds": "flush"}
],
"spacing": 486,
"bounds": "flush"
}
